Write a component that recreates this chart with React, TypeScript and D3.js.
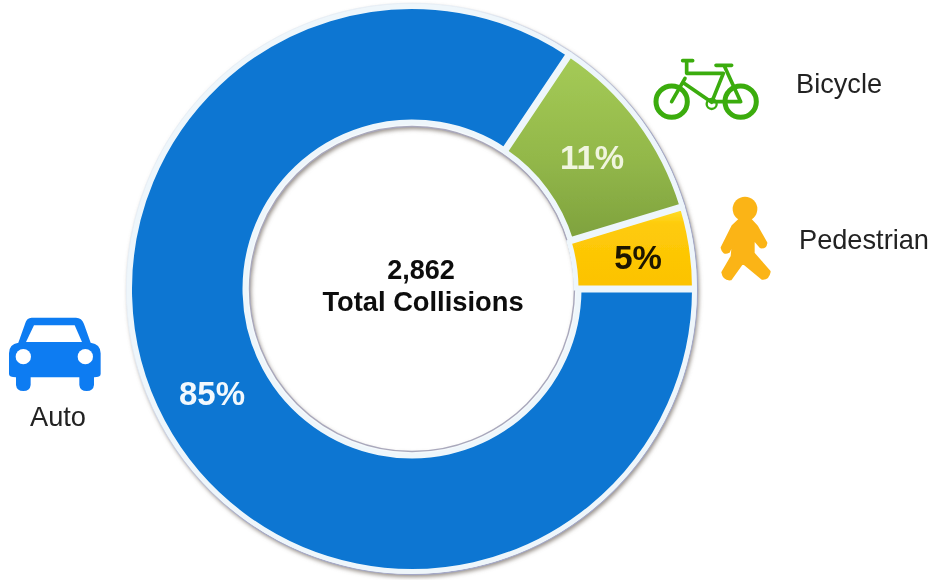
import React, { useEffect, useRef } from 'react';
import * as d3 from 'd3';

const categories = ['Auto', 'Bicycle', 'Pedestrian'];
const shares = [84.4, 10.9, 4.7];
const shareLabels = ['85%', '11%', '5%'];
const totalLines = ['2,862', 'Total Collisions'];

const FONT = '"Liberation Sans", Arial, sans-serif';

export default function App() {
  const ref = useRef<SVGSVGElement | null>(null);

  useEffect(() => {
    if (!ref.current) return;
    document.body.style.margin = '0';
    document.body.style.background = '#fff';
    const svg = d3.select(ref.current);
    svg.selectAll('*').remove();

    const defs = svg.append('defs');
    const grad = (id: string, stops: [number, string][]) => {
      const g = defs.append('linearGradient').attr('id', id)
        .attr('gradientUnits', 'userSpaceOnUse')
        .attr('x1', 0).attr('x2', 0).attr('y1', -240).attr('y2', 0);
      stops.forEach(([o, c]) => g.append('stop').attr('offset', o).attr('stop-color', c));
    };
    grad('g-auto', [[0, '#0b76d2'], [1, '#0b76d2']]);
    grad('g-bike', [[0, '#a6cc57'], [0.45, '#93b84a'], [1, '#729436']]);
    grad('g-ped', [[0.66, '#ffe02e'], [0.73, '#fecb0a'], [1, '#fcc200']]);

    // outer rim fades out towards the top left
    const rim = defs.append('linearGradient').attr('id', 'g-rim')
      .attr('x1', 0.1).attr('y1', 0.1).attr('x2', 0.9).attr('y2', 0.9);
    rim.append('stop').attr('offset', 0.25).attr('stop-color', '#e8eff6');
    rim.append('stop').attr('offset', 0.6).attr('stop-color', '#a4a8c6');

    defs.append('filter').attr('id', 'soft')
      .attr('x', '-5%').attr('y', '-5%').attr('width', '110%').attr('height', '110%')
      .append('feGaussianBlur').attr('stdDeviation', 2);
    // the reference is a soft jpeg, keep edges a little blurred
    defs.append('filter').attr('id', 'jpeg')
      .attr('filterUnits', 'userSpaceOnUse')
      .attr('x', 0).attr('y', 0).attr('width', 933).attr('height', 580)
      .append('feGaussianBlur').attr('stdDeviation', 0.55);

    const root = svg.append('g').attr('filter', 'url(#jpeg)');

    const cx = 412;
    const cy = 289;
    const outer = 282.5;
    const innerBySlice = [167, 166, 164];

    const pie = d3.pie<number>().sort(null)
      .startAngle(Math.PI / 2).endAngle(Math.PI / 2 + 2 * Math.PI);
    const arcs = pie(shares);
    const arc = d3.arc<d3.PieArcDatum<number>>()
      .innerRadius(d => innerBySlice[d.index])
      .outerRadius(outer)
      .padAngle(0.007).padRadius(280);
    const ids = ['g-auto', 'g-bike', 'g-ped'];

    const g = root.append('g').attr('transform', `translate(${cx},${cy})`);

    // drop shadow and rims around the ring
    const ring = d3.arc()({ innerRadius: 162.5, outerRadius: 285.5, startAngle: 0, endAngle: 2 * Math.PI }) as string;
    g.append('path').attr('d', ring).attr('transform', 'translate(1.5,2.5)')
      .attr('fill', '#968f88').attr('filter', 'url(#soft)');
    g.append('path').attr('d', ring).attr('fill', '#f4f9fc');
    g.append('circle').attr('r', 285.5).attr('fill', 'none').attr('stroke', 'url(#g-rim)').attr('stroke-width', 1.4);
    g.append('circle').attr('r', 162.5).attr('fill', 'none').attr('stroke', '#a9a8bc').attr('stroke-width', 1.4);

    g.selectAll('path.slice').data(arcs).enter().append('path')
      .attr('class', 'slice')
      .attr('d', d => arc(d))
      .attr('fill', (_, i) => `url(#${ids[i]})`)
      .attr('stroke', '#eef6fb')
      .attr('stroke-width', 5)
      .attr('stroke-linejoin', 'miter');

    // percent labels
    const labelPos = [[212, 394], [592, 158], [638, 258]];
    const labelFill = ['#f2f8fd', '#f0f5df', '#1b1206'];
    root.append('g').selectAll('text').data(shareLabels).enter().append('text')
      .attr('x', (_, i) => labelPos[i][0])
      .attr('y', (_, i) => labelPos[i][1] + 11)
      .attr('text-anchor', 'middle')
      .attr('font-family', FONT)
      .attr('font-weight', 700)
      .attr('font-size', 33)
      .attr('fill', (_, i) => labelFill[i])
      .text(d => d);

    // centre total
    root.append('g').selectAll('text').data(totalLines).enter().append('text')
      .attr('x', (_, i) => (i === 0 ? 421 : 423))
      .attr('y', (_, i) => 279 + i * 32)
      .attr('text-anchor', 'middle')
      .attr('font-family', FONT)
      .attr('font-weight', 700)
      .attr('font-size', (_, i) => (i === 0 ? 27 : 27.3))
      .attr('fill', '#0a0a0a')
      .text(d => d);

    // category names
    const namePos = [[58, 426, 'middle'], [796, 93, 'start'], [799, 249, 'start']];
    root.append('g').selectAll('text').data(categories).enter().append('text')
      .attr('x', (_, i) => namePos[i][0] as number)
      .attr('y', (_, i) => namePos[i][1] as number)
      .attr('text-anchor', (_, i) => namePos[i][2] as string)
      .attr('font-family', FONT)
      .attr('font-size', 27.2)
      .attr('fill', '#222')
      .text(d => d);

    // car icon
    const car = root.append('g').attr('transform', 'translate(0,300) scale(0.3333)');
    car.append('path').attr('fill', '#0f7bf2')
      .attr('d', 'M95 53 H228 Q245 53 252 72 L272 128 Q302 132 302 160 V222 Q302 232 282 232 V255 Q280 273 260 273 Q240 273 238 255 V232 H92 V255 Q90 273 70 273 Q50 273 48 255 V232 Q27 232 27 222 V160 Q27 132 55 128 L75 72 Q80 53 95 53 Z');
    car.append('path').attr('fill', '#fff').attr('d', 'M102 76 H224 L246 126 H78 Z');
    car.append('circle').attr('cx', 70).attr('cy', 170).attr('r', 23).attr('fill', '#fff');
    car.append('circle').attr('cx', 256).attr('cy', 170).attr('r', 23).attr('fill', '#fff');

    // bicycle icon
    const bike = root.append('g').attr('transform', 'translate(640,40) scale(0.3333)')
      .attr('fill', 'none').attr('stroke', '#3aac0e').attr('stroke-linecap', 'round').attr('stroke-linejoin', 'round');
    bike.append('circle').attr('cx', 95).attr('cy', 185).attr('r', 47).attr('stroke-width', 15);
    bike.append('circle').attr('cx', 302).attr('cy', 185).attr('r', 47).attr('stroke-width', 15);
    bike.append('path').attr('stroke-width', 11)
      .attr('d', 'M128 62 H158 M140 65 L140 100 H250 M130 128 L215 187 L250 100 M228 76 H275 M252 76 L302 185 H215 M95 185 L135 115');
    bike.append('circle').attr('cx', 215).attr('cy', 192).attr('r', 15).attr('stroke-width', 7);

    // pedestrian icon
    const ped = root.append('g').attr('transform', 'translate(700,185) scale(0.3333)')
      .attr('fill', '#fbb415').attr('stroke', '#fbb415').attr('stroke-width', 8).attr('stroke-linejoin', 'round');
    ped.append('circle').attr('cx', 135).attr('cy', 72).attr('r', 37).attr('stroke', 'none').attr('fill', '#fbb415');
    ped.append('path')
      .attr('d', 'M118 105 H152 L170 124 L198 174 Q196 188 182 186 L160 160 L160 205 L208 260 Q204 282 186 280 L128 232 L92 282 Q72 284 68 262 L96 214 L100 168 L86 200 Q70 208 66 188 L98 124 Z');
  }, []);

  return <svg ref={ref} width={933} height={580} style={{ display: 'block' }} />;
}
